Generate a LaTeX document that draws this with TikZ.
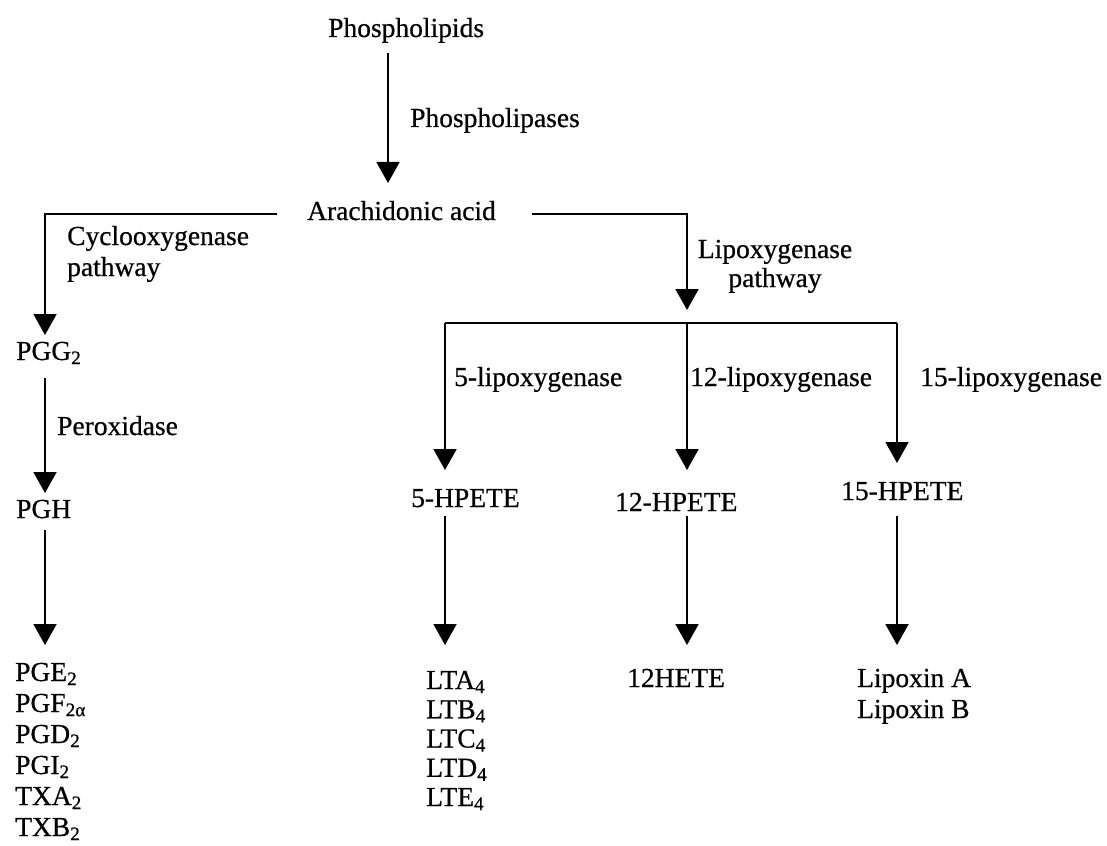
\documentclass[tikz,border=0pt]{standalone}
\usepackage{fontspec}
\setmainfont{Liberation Serif}[FakeBold=0.6]
\usetikzlibrary{arrows.meta}
\begin{document}
\begin{tikzpicture}[x=1pt,y=-1pt,
  lbl/.style={inner sep=0pt, font=\fontsize{27.5}{30}\selectfont, anchor=base west},
  flow/.style={line width=2pt, -{Triangle[width=23pt,length=21pt]}},
  bar/.style={line width=2pt}]
\useasboundingbox[fill=white] (0,0) rectangle (1107,845);

% texts
\node[lbl] (phl) at (328,37) {Phospholipids};
\node[lbl] (plase) at (410,127) {Phospholipases};
\node[lbl] (aa) at (307,220) {Arachidonic acid};
\node[lbl] (cox) at (67,245) {Cyclooxygenase};
\node[lbl] (coxp) at (67,276) {pathway};
\node[lbl,anchor=base] (lox) at (775,258) {Lipoxygenase};
\node[lbl,anchor=base] (loxp) at (775,287) {pathway};
\node[lbl] (l5) at (454,386) {5-lipoxygenase};
\node[lbl] (l12) at (690,386) {12-lipoxygenase};
\node[lbl] (l15) at (920,386) {15-lipoxygenase};
\node[lbl] (h5) at (411,507) {5-HPETE};
\node[lbl] (h12) at (615,511) {12-HPETE};
\node[lbl] (h15) at (841,500) {15-HPETE};
\node[lbl] (pgg) at (16,360) {PGG\textsubscript{2}};
\node[lbl] (perox) at (57,435) {Peroxidase};
\node[lbl] (pgh) at (16,518) {PGH};
\foreach \t [count=\i from 0] in {PGE\textsubscript{2}, PGF\textsubscript{2α}, PGD\textsubscript{2}, PGI\textsubscript{2}, TXA\textsubscript{2}, TXB\textsubscript{2}}
  \node[lbl] (pg\i) at (15,681+31*\i) {\t};
\foreach \t [count=\i from 0] in {LTA\textsubscript{4}, LTB\textsubscript{4}, LTC\textsubscript{4}, LTD\textsubscript{4}, LTE\textsubscript{4}}
  \node[lbl] (lt\i) at (426,689+29.25*\i) {\t};
\node[lbl] (hete) at (627,687) {12HETE};
\node[lbl] (lxa) at (857,687) {Lipoxin A};
\node[lbl] (lxb) at (857,718) {Lipoxin B};

% junction coordinates
\coordinate (pA) at (388,53);   \coordinate (pB) at (388,183);
\coordinate (lA) at (277,214);  \coordinate (lB) at (45,214);  \coordinate (lC) at (45,335);
\coordinate (rA) at (532,214);  \coordinate (rB) at (687,214); \coordinate (rC) at (687,310);
\coordinate (b5) at (445,323);  \coordinate (b12) at (687,323); \coordinate (b15) at (897,323);
\coordinate (t5) at (445,470);  \coordinate (t12) at (687,470); \coordinate (t15) at (897,463);
\coordinate (g1) at (45,378);   \coordinate (g2) at (45,493);
\coordinate (g3) at (45,530);   \coordinate (g4) at (45,645);
\coordinate (u5) at (445,516);  \coordinate (v5) at (445,645);
\coordinate (u12) at (687,516); \coordinate (v12) at (687,645);
\coordinate (u15) at (897,516); \coordinate (v15) at (897,645);

% connectors
\draw[flow] (pA) -- (pB);
\draw[flow] (lA) -- (lB) -- (lC);
\draw[flow] (rA) -- (rB) -- (rC);
\draw[bar] (b5) -- (b15);
\draw[flow] (b5) -- (t5);
\draw[flow] (b12) -- (t12);
\draw[flow] (b15) -- (t15);
\draw[flow] (g1) -- (g2);
\draw[flow] (g3) -- (g4);
\draw[flow] (u5) -- (v5);
\draw[flow] (u12) -- (v12);
\draw[flow] (u15) -- (v15);
\end{tikzpicture}
\end{document}
